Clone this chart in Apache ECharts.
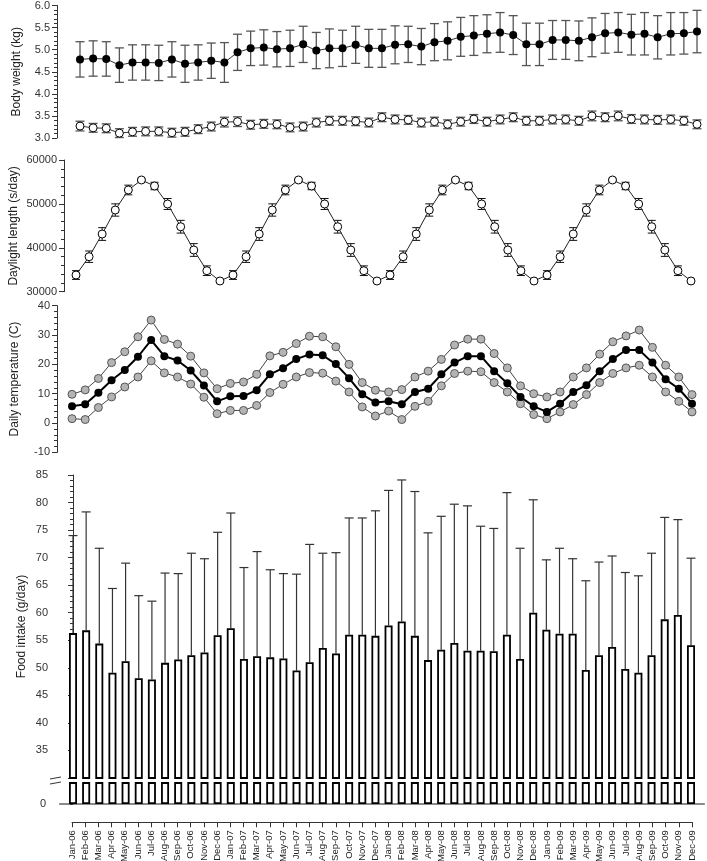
<!DOCTYPE html>
<html>
<head>
<meta charset="utf-8">
<script src="https://cdn.jsdelivr.net/npm/echarts@6/dist/echarts.min.js"></script>
<style>
html, body { margin: 0; padding: 0; background: #fff; }
#chart { width: 707px; height: 861px; }
</style>
</head>
<body>
<div id="chart"></div>
<script>
// months along the shared x axis
const months = [
  'Jan-06', 'Feb-06', 'Mar-06', 'Apr-06', 'May-06', 'Jun-06', 'Jul-06', 'Aug-06', 'Sep-06', 'Oct-06', 'Nov-06', 'Dec-06',
  'Jan-07', 'Feb-07', 'Mar-07', 'Apr-07', 'May-07', 'Jun-07', 'Jul-07', 'Aug-07', 'Sep-07', 'Oct-07', 'Nov-07', 'Dec-07',
  'Jan-08', 'Feb-08', 'Mar-08', 'Apr-08', 'May-08', 'Jun-08', 'Jul-08', 'Aug-08', 'Sep-08', 'Oct-08', 'Nov-08', 'Dec-08',
  'Jan-09', 'Feb-09', 'Mar-09', 'Apr-09', 'May-09', 'Jun-09', 'Jul-09', 'Aug-09', 'Sep-09', 'Oct-09', 'Nov-09', 'Dec-09'
]

// body weight (kg), filled circles
const bwHigh = [
  4.78, 4.80, 4.79, 4.65, 4.71, 4.71, 4.70, 4.78, 4.68, 4.71, 4.75, 4.71,
  4.94, 5.03, 5.05, 5.01, 5.03, 5.12, 4.98, 5.03, 5.03, 5.11, 5.03, 5.03,
  5.11, 5.12, 5.07, 5.17, 5.20, 5.29, 5.32, 5.36, 5.39, 5.33, 5.12, 5.12,
  5.22, 5.22, 5.20, 5.28, 5.37, 5.39, 5.34, 5.36, 5.28, 5.36, 5.37, 5.41
]
const bwHighSd = [
  0.40, 0.40, 0.39, 0.39, 0.40, 0.40, 0.40, 0.40, 0.42, 0.40, 0.40, 0.45,
  0.41, 0.39, 0.40, 0.40, 0.41, 0.41, 0.41, 0.44, 0.41, 0.42, 0.43, 0.43,
  0.43, 0.41, 0.41, 0.42, 0.43, 0.44, 0.45, 0.43, 0.45, 0.44, 0.48, 0.48,
  0.44, 0.44, 0.45, 0.44, 0.45, 0.45, 0.46, 0.48, 0.49, 0.48, 0.47, 0.48
]
// body weight (kg), open circles
const bwLow = [
  3.27, 3.23, 3.22, 3.11, 3.14, 3.15, 3.15, 3.12, 3.14, 3.20, 3.26, 3.36,
  3.37, 3.30, 3.32, 3.31, 3.24, 3.26, 3.35, 3.39, 3.39, 3.38, 3.35, 3.47,
  3.42, 3.41, 3.35, 3.37, 3.31, 3.37, 3.43, 3.37, 3.42, 3.47, 3.39, 3.39,
  3.42, 3.42, 3.39, 3.50, 3.47, 3.50, 3.43, 3.42, 3.41, 3.42, 3.39, 3.31
]
const bwLowSd = [
  0.11, 0.10, 0.10, 0.10, 0.10, 0.10, 0.10, 0.10, 0.10, 0.10, 0.10, 0.11,
  0.11, 0.10, 0.10, 0.10, 0.10, 0.10, 0.10, 0.10, 0.10, 0.10, 0.10, 0.10,
  0.10, 0.10, 0.10, 0.10, 0.10, 0.10, 0.10, 0.10, 0.10, 0.10, 0.10, 0.10,
  0.10, 0.10, 0.10, 0.11, 0.10, 0.11, 0.10, 0.10, 0.10, 0.10, 0.10, 0.10
]

// daylight length (s/day)
const daylight = [
  33800, 37970, 43140, 48610, 53170, 55450, 54080, 49980, 44800, 39500, 34780, 32440,
  33800, 37970, 43140, 48610, 53170, 55450, 54080, 49980, 44800, 39500, 34780, 32440,
  33800, 37970, 43140, 48610, 53170, 55450, 54080, 49980, 44800, 39500, 34780, 32440,
  33800, 37970, 43140, 48610, 53170, 55450, 54080, 49980, 44800, 39500, 34780, 32440
]
const daylightSd = [
  1000, 1300, 1450, 1400, 1100, 300, 850, 1250, 1450, 1450, 1100, 300,
  1000, 1300, 1450, 1400, 1100, 300, 850, 1250, 1450, 1450, 1100, 300,
  1000, 1300, 1450, 1400, 1100, 300, 850, 1250, 1450, 1450, 1100, 300,
  1000, 1300, 1450, 1400, 1100, 300, 850, 1250, 1450, 1450, 1100, 300
]

// daily temperature (C)
const tempMean = [
  5.7, 6.4, 10.3, 14.6, 18.1, 22.6, 28.3, 22.8, 21.3, 17.9, 12.8, 7.4,
  9.1, 9.2, 11.2, 16.6, 18.7, 21.8, 23.4, 23.1, 20.1, 15.3, 9.8, 7.0,
  7.4, 6.4, 10.6, 11.7, 16.6, 20.6, 22.8, 22.8, 17.7, 13.6, 8.9, 5.7,
  3.8, 6.6, 10.6, 12.9, 17.7, 21.8, 24.9, 24.9, 20.6, 14.9, 11.7, 6.6
]
const tempMax = [
  9.8, 11.3, 15.2, 20.6, 24.3, 29.4, 35.1, 28.5, 26.9, 22.8, 17.1, 11.7,
  13.5, 14.0, 16.6, 22.9, 24.1, 27.1, 29.6, 29.4, 26.0, 20.0, 13.8, 11.2,
  10.6, 11.4, 15.7, 17.7, 21.7, 26.6, 28.6, 28.6, 23.7, 18.8, 12.7, 10.0,
  8.9, 10.6, 15.7, 18.8, 23.5, 27.7, 29.7, 31.7, 25.8, 19.7, 15.7, 9.7
]
const tempMin = [
  1.5, 1.2, 5.3, 8.9, 12.3, 15.7, 21.2, 17.1, 15.7, 13.3, 8.8, 3.2,
  4.3, 4.3, 6.0, 10.4, 13.2, 15.7, 17.2, 17.0, 14.3, 10.6, 5.5, 2.4,
  4.1, 1.2, 5.7, 7.4, 12.7, 16.9, 17.7, 17.5, 13.8, 10.6, 6.6, 2.9,
  1.5, 3.8, 6.3, 9.7, 13.8, 16.9, 18.8, 19.7, 15.7, 10.6, 7.4, 3.8
]

// food intake (g/day)
const food = [
  56.3, 56.8, 54.4, 49.1, 51.2, 48.1, 47.9, 50.9, 51.5, 52.3, 52.8, 55.9,
  57.2, 51.6, 52.1, 51.9, 51.7, 49.5, 51.0, 53.6, 52.6, 56.0, 56.0, 55.8,
  57.7, 58.4, 55.8, 51.4, 53.3, 54.5, 53.1, 53.1, 53.0, 56.0, 51.6, 60.0,
  56.9, 56.2, 56.2, 49.6, 52.3, 53.8, 49.8, 49.1, 52.3, 58.8, 59.6, 54.1
]
const foodSd = [
  17.7, 21.5, 17.3, 15.3, 17.8, 15.0, 14.2, 16.3, 15.6, 18.5, 17.0, 18.7,
  20.9, 16.6, 19.0, 15.9, 15.4, 17.5, 21.4, 17.2, 18.3, 21.2, 21.2, 22.7,
  24.5, 25.7, 26.2, 23.1, 24.2, 25.2, 26.3, 22.6, 22.3, 25.8, 20.1, 20.5,
  12.7, 15.5, 13.6, 16.2, 16.9, 16.5, 17.5, 17.6, 18.5, 18.5, 17.3, 15.8
]

const errData = (vals, sds) => vals.map((v, i) => [i, v - sds[i], v + sds[i]])
const upData = (vals, sds) => vals.map((v, i) => [i, v, v + sds[i]])

// vertical error bar with caps
const errorBar = (capW, color, lineW, bothCaps) => (params, api) => {
  const x = api.value(0)
  const top = api.coord([x, api.value(2)])
  const bot = api.coord([x, api.value(1)])
  const h = capW / 2
  const style = { stroke: color, lineWidth: lineW }
  const children = [
    { type: 'line', shape: { x1: top[0], y1: top[1], x2: bot[0], y2: bot[1] }, style },
    { type: 'line', shape: { x1: top[0] - h, y1: top[1], x2: top[0] + h, y2: top[1] }, style }
  ]
  if (bothCaps) {
    children.push({ type: 'line', shape: { x1: bot[0] - h, y1: bot[1], x2: bot[0] + h, y2: bot[1] }, style })
  }
  return { type: 'group', children }
}

const axisColor = '#333'
const labelStyle = { fontSize: 11, color: '#333', margin: 7, fontFamily: 'Liberation Sans' }
const yBase = (extra) => Object.assign({
  type: 'value',
  nameLocation: 'middle',
  nameMoveOverlap: false,
  nameTextStyle: { fontSize: 12, color: '#222', fontFamily: 'Liberation Sans' },
  axisLine: { show: true, lineStyle: { color: axisColor, width: 1 } },
  axisTick: { show: true, length: 5, lineStyle: { color: axisColor } },
  minorTick: { show: true, splitNumber: 5, length: 3, lineStyle: { color: axisColor } },
  axisLabel: labelStyle,
  splitLine: { show: false },
  minorSplitLine: { show: false }
}, extra)

const hiddenCat = (gi) => ({ gridIndex: gi, type: 'category', data: months, boundaryGap: false, show: false })

const chart = echarts.init(document.getElementById('chart'))
chart.setOption({
  animation: false,
  backgroundColor: '#fff',
  grid: [
    { left: 80, right: 10, top: 5.5, height: 132.5 },
    { left: 69, right: 16, top: 160, height: 131.7 },
    { left: 72, right: 15, top: 305.7, height: 146.7 },
    { left: 59.85, right: 2.85, top: 475, height: 303 },
    { left: 59.85, right: 2.85, top: 783, height: 21 },
    { left: 72, right: 15, top: 822, height: 1 }
  ],
  xAxis: [
    hiddenCat(0),
    hiddenCat(1),
    hiddenCat(2),
    { gridIndex: 3, type: 'value', min: -1, max: 48, show: false },
    {
      gridIndex: 4, type: 'value', min: -1, max: 48,
      axisLine: { show: true, lineStyle: { color: '#8a8a8a', width: 2 } },
      axisTick: { show: false }, axisLabel: { show: false }, splitLine: { show: false }
    },
    {
      gridIndex: 5, type: 'category', data: months, boundaryGap: false,
      axisLine: { show: true, lineStyle: { color: axisColor } },
      axisTick: { show: true, length: 5, interval: 0, lineStyle: { color: axisColor } },
      axisLabel: { rotate: 90, interval: 0, fontSize: 9.5, margin: 8, color: '#222', fontFamily: 'Liberation Sans' }
    }
  ],
  yAxis: [
    yBase({ gridIndex: 0, min: 3, max: 6, interval: 0.5, offset: 23, name: 'Body weight (kg)', nameGap: 34,
      axisLabel: Object.assign({}, labelStyle, { formatter: v => v.toFixed(1) }) }),
    yBase({ gridIndex: 1, min: 30000, max: 60000, interval: 10000, offset: 12, name: 'Daylight length (s/day)', nameGap: 44,
      axisLabel: Object.assign({}, labelStyle, { formatter: v => String(v) }) }),
    yBase({ gridIndex: 2, min: -10, max: 40, interval: 10, offset: 15, name: 'Daily temperature (C)', nameGap: 36 }),
    yBase({ gridIndex: 3, min: 30, max: 85, interval: 5, offset: 4.85, name: 'Food intake (g/day)', nameGap: 27,
      axisLabel: Object.assign({}, labelStyle, { formatter: v => (v === 30 ? '' : String(v)) }) }),
    yBase({ gridIndex: 4, min: 0, max: 4, interval: 1, offset: 4.85,
      axisTick: { show: true, length: 3, lineStyle: { color: axisColor } },
      minorTick: { show: false },
      axisLabel: Object.assign({}, labelStyle, { margin: 9, formatter: v => (v === 0 ? '0' : '') }) }),
    { gridIndex: 5, type: 'value', show: false }
  ],
  graphic: [
    { type: 'line', shape: { x1: 50, y1: 779, x2: 61, y2: 777 }, style: { stroke: '#333', lineWidth: 1 } },
    { type: 'line', shape: { x1: 50, y1: 784, x2: 61, y2: 782 }, style: { stroke: '#333', lineWidth: 1 } }
  ],
  series: [
    // body weight
    {
      type: 'custom', xAxisIndex: 0, yAxisIndex: 0, z: 1,
      renderItem: errorBar(9, '#555', 1.3, true),
      encode: { x: 0, y: [1, 2] },
      data: errData(bwHigh, bwHighSd)
    },
    {
      type: 'custom', xAxisIndex: 0, yAxisIndex: 0, z: 1,
      renderItem: errorBar(9, '#555', 1.3, true),
      encode: { x: 0, y: [1, 2] },
      data: errData(bwLow, bwLowSd)
    },
    {
      type: 'line', xAxisIndex: 0, yAxisIndex: 0, z: 3, data: bwHigh,
      symbol: 'circle', symbolSize: 8,
      itemStyle: { color: '#000' }, lineStyle: { color: '#333', width: 1 }
    },
    {
      type: 'line', xAxisIndex: 0, yAxisIndex: 0, z: 3, data: bwLow,
      symbol: 'circle', symbolSize: 8,
      itemStyle: { color: '#fff', borderColor: '#000', borderWidth: 1 }, lineStyle: { color: '#333', width: 1 }
    },
    // daylight
    {
      type: 'custom', xAxisIndex: 1, yAxisIndex: 1, z: 1,
      renderItem: errorBar(8, '#111', 1, true),
      encode: { x: 0, y: [1, 2] },
      data: errData(daylight, daylightSd)
    },
    {
      type: 'line', xAxisIndex: 1, yAxisIndex: 1, z: 3, data: daylight,
      symbol: 'circle', symbolSize: 8,
      itemStyle: { color: '#fff', borderColor: '#000', borderWidth: 1 }, lineStyle: { color: '#222', width: 1 }
    },
    // temperature
    {
      type: 'line', xAxisIndex: 2, yAxisIndex: 2, z: 3, data: tempMax,
      symbol: 'circle', symbolSize: 8,
      itemStyle: { color: '#b4b4b4', borderColor: '#555', borderWidth: 1 }, lineStyle: { color: '#444', width: 1 }
    },
    {
      type: 'line', xAxisIndex: 2, yAxisIndex: 2, z: 3, data: tempMin,
      symbol: 'circle', symbolSize: 8,
      itemStyle: { color: '#b4b4b4', borderColor: '#555', borderWidth: 1 }, lineStyle: { color: '#444', width: 1 }
    },
    {
      type: 'line', xAxisIndex: 2, yAxisIndex: 2, z: 4, data: tempMean,
      symbol: 'circle', symbolSize: 8,
      itemStyle: { color: '#000' }, lineStyle: { color: '#000', width: 2 }
    },
    // food intake, broken axis
    {
      type: 'custom', xAxisIndex: 3, yAxisIndex: 3, z: 1,
      renderItem: errorBar(9, '#333', 1.2, false),
      encode: { x: 0, y: [1, 2] },
      data: upData(food, foodSd)
    },
    {
      type: 'bar', xAxisIndex: 3, yAxisIndex: 3, z: 2, barWidth: 8,
      data: food.map((v, i) => [i, v]),
      itemStyle: { color: '#fff', borderColor: '#000', borderWidth: 1.8 }
    },
    {
      type: 'bar', xAxisIndex: 4, yAxisIndex: 4, z: 2, barWidth: 8,
      data: food.map((v, i) => [i, v]),
      itemStyle: { color: '#fff', borderColor: '#000', borderWidth: 1.8 }
    }
  ]
})
</script>
</body>
</html>
